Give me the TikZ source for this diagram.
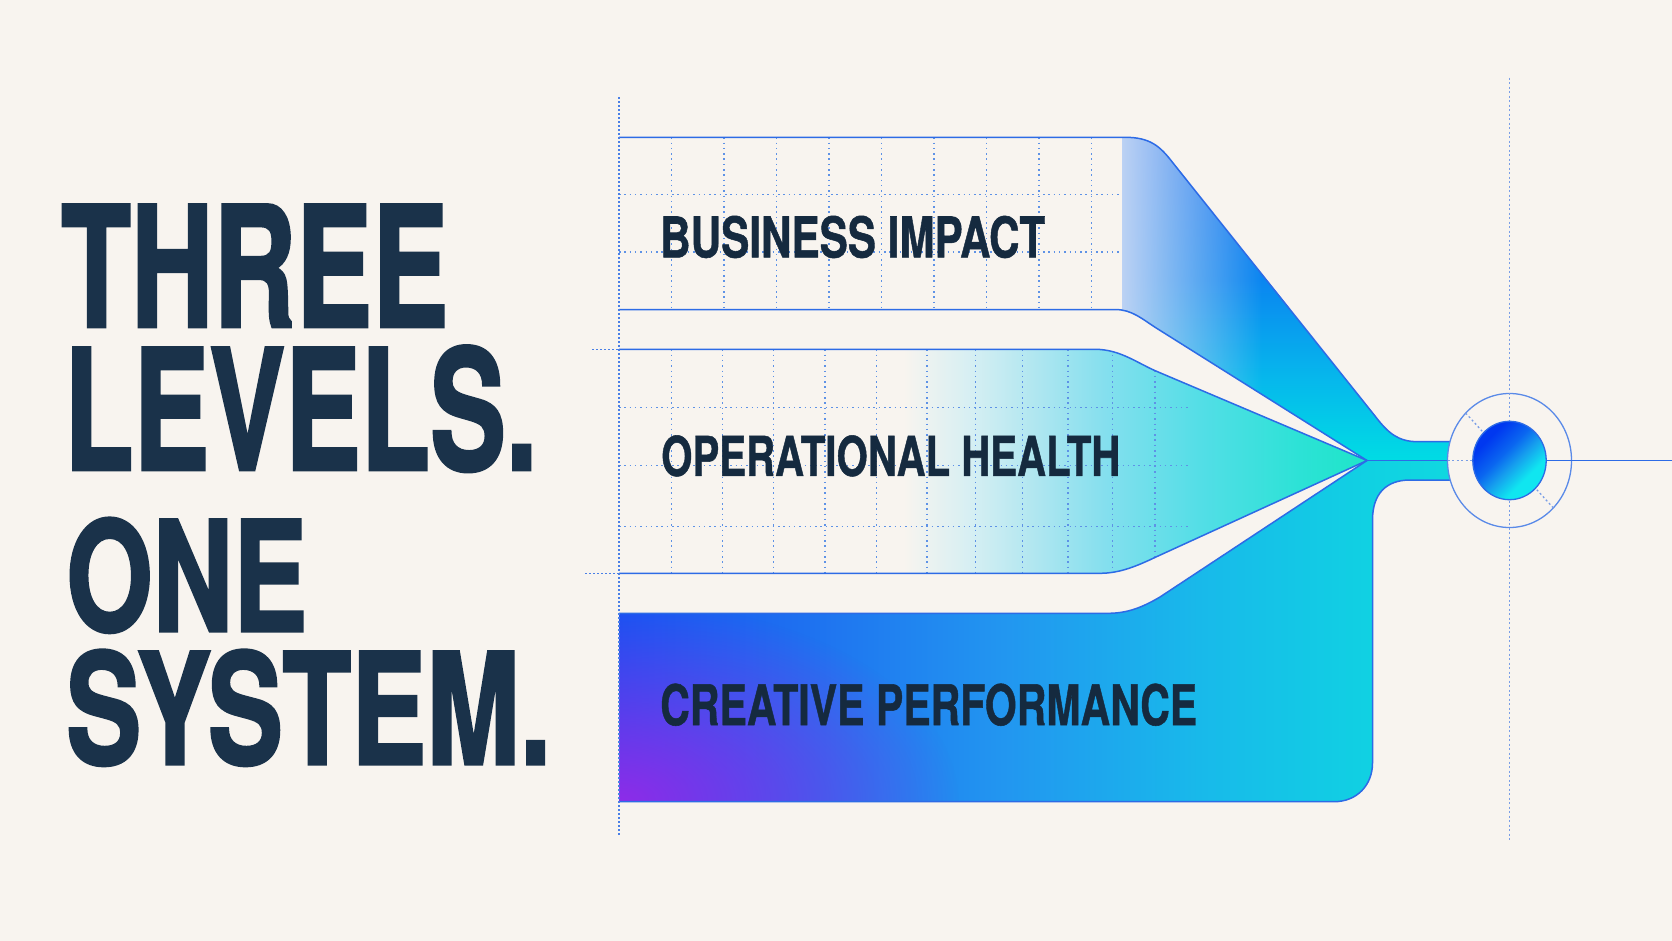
\documentclass[tikz,border=0pt]{standalone}
\usepackage{fontspec}
\usepackage{graphicx}
\newfontfamily\headfont{texgyreheros-bold.otf}[FakeBold=2]
\newfontfamily\labelfont{texgyreheros-bold.otf}[FakeBold=1]
\usetikzlibrary{fadings}
\definecolor{bg}{HTML}{F8F4EF}
\definecolor{navy}{HTML}{1A324A}
\definecolor{labelnavy}{HTML}{152A3F}
\definecolor{lineblue}{HTML}{2D6BE6}
\definecolor{gridblue}{HTML}{5E92E6}
\definecolor{guideblue}{HTML}{4A7FE6}
\definecolor{guidelight}{HTML}{7A9EE6}
\definecolor{ringblue}{HTML}{5A8AE8}
\definecolor{b1a}{HTML}{00DCE4}
\definecolor{b1b}{HTML}{06B8EC}
\definecolor{b1c}{HTML}{0A86F0}
\definecolor{b1d}{HTML}{1C74F0}
\definecolor{b1light}{HTML}{BCD2F4}
\definecolor{b2a}{HTML}{D6EFF3}
\definecolor{b2b}{HTML}{AEE6F0}
\definecolor{b2c}{HTML}{84DFEE}
\definecolor{b2d}{HTML}{52DEE6}
\definecolor{b2e}{HTML}{2CE2D6}
\definecolor{b2f}{HTML}{1EE5C8}
\definecolor{b3a}{HTML}{1654F2}
\definecolor{b3b}{HTML}{1E70F0}
\definecolor{b3c}{HTML}{2296F0}
\definecolor{b3d}{HTML}{18BAEA}
\definecolor{b3e}{HTML}{10D2E2}
\definecolor{b3f}{HTML}{10D8E0}
\definecolor{purp}{HTML}{8E2CE8}
\definecolor{k1}{HTML}{0038F0}
\definecolor{k2}{HTML}{0A66F0}
\definecolor{k3}{HTML}{16A0EE}
\definecolor{k4}{HTML}{10E6F0}
\pgfdeclareverticalshading{bandoneSh}{100bp}{color(0bp)=(b1a); color(25bp)=(b1a); color(37.5bp)=(b1b); color(52.9bp)=(b1c); color(75bp)=(b1d); color(100bp)=(b1d)}
\pgfdeclarehorizontalshading{bandtwoSh}{100bp}{color(0bp)=(bg); color(44bp)=(bg); color(48.5bp)=(b2a); color(53bp)=(b2b); color(57.5bp)=(b2c); color(64bp)=(b2d); color(70.5bp)=(b2e); color(75bp)=(b2f); color(100bp)=(b2f)}
\pgfdeclarehorizontalshading{bandthreeSh}{100bp}{color(0bp)=(b3a); color(25bp)=(b3a); color(35.9bp)=(b3b); color(48bp)=(b3c); color(60bp)=(b3d); color(70.4bp)=(b3e); color(75bp)=(b3f); color(100bp)=(b3f)}
\pgfdeclarehorizontalshading{ballSh}{100bp}{color(0bp)=(k1); color(30bp)=(k1); color(44bp)=(k2); color(54bp)=(k3); color(66bp)=(k4); color(100bp)=(k4)}
\tikzfading[name=fadeR, left color=transparent!0, right color=transparent!100]
\tikzfading[name=fadeO, inner color=transparent!0, outer color=transparent!100]
\def\bandonefill{(1122,137.3) -- (1125,137.3) .. controls (1150,137.3) and (1160,146) .. (1173,163) -- (1375,416) .. controls (1388,433) and (1398,441.7) .. (1418,441.7) -- (1455,441.7) -- (1455,460.5) -- (1367,460.5) -- (1157,328.5) .. controls (1145,321) and (1132,310) .. (1122,309.6) -- cycle}
\def\bandtwo{(619,349.3) -- (1095,349.3) .. controls (1120,349.3) and (1137,363) .. (1157,371.5) -- (1367,460.5) -- (1157,556.5) .. controls (1137,566) and (1120,573.3) .. (1100,573.3) -- (619,573.3) -- cycle}
\def\bandthree{(619,613.3) -- (1108,613.3) .. controls (1128,613.3) and (1143,607) .. (1160,597) -- (1367,460.5) -- (1455,460.5) -- (1455,480) -- (1410,480) .. controls (1386,480) and (1372.5,494) .. (1372.5,520) -- (1372.5,763) .. controls (1372.5,785) and (1357,801.7) .. (1334,801.7) -- (619,801.7) -- cycle}
\begin{document}
\begin{tikzpicture}[x=1pt,y=-1pt,
  bandline/.style={draw=lineblue, line width=1.5pt},
  gridline/.style={draw=gridblue, line width=1.3pt, dash pattern=on 1.5pt off 3.8pt},
  guideline/.style={draw=guideblue, line width=1.3pt, dash pattern=on 2pt off 2pt},
  guidelt/.style={draw=guidelight, line width=1.3pt, dash pattern=on 2pt off 2.5pt},
  ringline/.style={draw=ringblue, line width=1.3pt},
  bigtext/.style={anchor=south west, inner sep=0pt, text=navy},
  labeltext/.style={anchor=south west, inner sep=0pt, text=labelnavy}]
\useasboundingbox (0,0) rectangle (1672,941);
\fill[bg] (0,0) rectangle (1672,941);
\coordinate (apex) at (1367,460.5);
\coordinate (ringc) at (1509.5,460.5);
% band fills
\shade[shading=bandtwoSh] \bandtwo;
\shade[shading=bandoneSh] \bandonefill;
\begin{scope}
  \clip \bandonefill;
  \fill[b1light, path fading=fadeR] (1122,130) rectangle (1262,470);
\end{scope}
\shade[shading=bandthreeSh] \bandthree;
\begin{scope}
  \clip \bandthree;
  \fill[purp, path fading=fadeO] (619,801.7) ellipse [x radius=340pt, y radius=200pt];
\end{scope}
% grids
\begin{scope}
  \clip (619,137.3) rectangle (1122,309.5);
  \foreach \x in {671.5,724,776.5,829,881.5,934,986.5,1039,1091.5}
    \draw[gridline] (\x,137.3) -- (\x,309.5);
  \foreach \y in {194.7,252.1}
    \draw[gridline] (619,\y) -- (1122,\y);
\end{scope}
\begin{scope}
  \clip \bandtwo;
  \foreach \x in {671.4,722.5,773.6,825,876.4,927.1,975.4,1022.5,1067.9,1112.5,1155}
    \draw[gridline] (\x,349.3) -- (\x,573.3);
  \foreach \y in {407.7,465.7,526.7}
    \draw[gridline] (619,\y) -- (1190,\y);
\end{scope}
% outlines
\draw[bandline] (619,137.3) -- (1125,137.3) .. controls (1150,137.3) and (1160,146) .. (1173,163) -- (1375,416) .. controls (1388,433) and (1398,441.7) .. (1418,441.7) -- (1455,441.7);
\draw[bandline] (619,309.5) -- (1115,309.5) .. controls (1132,309.5) and (1142,319) .. (1157,328.5) -- (apex);
\draw[bandline] (619,349.3) -- (1095,349.3) .. controls (1120,349.3) and (1137,363) .. (1157,371.5) -- (apex) -- (1157,556.5) .. controls (1137,566) and (1120,573.3) .. (1100,573.3) -- (619,573.3);
\draw[bandline] (619,613.3) -- (1108,613.3) .. controls (1128,613.3) and (1143,607) .. (1160,597) -- (apex);
\draw[bandline] (1455,480) -- (1410,480) .. controls (1386,480) and (1372.5,494) .. (1372.5,520) -- (1372.5,763) .. controls (1372.5,785) and (1357,801.7) .. (1334,801.7) -- (619,801.7);
\draw[bandline] (apex) -- (1455,460.5);
% guides
\draw[guideline] (619,97.3) -- (619,835);
\draw[guideline] (592,349.3) -- (619,349.3);
\draw[guideline] (585,573.3) -- (619,573.3);
% ring
\fill[bg] (ringc) ellipse [x radius=62pt, y radius=67pt];
\draw[ringline] (ringc) ellipse [x radius=62pt, y radius=67pt];
\draw[guidelt] (1509.5,77.7) -- (1509.5,840);
\draw[guidelt] (1447.5,460.5) -- (1472.5,460.5);
\draw[guidelt] (1465.7,413.1) -- (1483.6,432.8);
\draw[guidelt] (1553.3,507.9) -- (1535.4,488.2);
\draw[bandline] (1546,460.5) -- (1672,460.5);
\shade[shading=ballSh, shading angle=-45] (ringc) ellipse [x radius=36.7pt, y radius=39.2pt];
\draw[draw=lineblue, line width=1.3pt] (ringc) ellipse [x radius=36.7pt, y radius=39.2pt];
% texts
\node[bigtext] (three) at (61,327) {\resizebox{387pt}{122pt}{\headfont THREE}};
\node[bigtext] (levels) at (64,472) {\resizebox{473pt}{124pt}{\headfont LEVELS.}};
\node[bigtext] (one) at (66,633) {\resizebox{241pt}{113pt}{\headfont ONE}};
\node[bigtext] (system) at (66,766) {\resizebox{485pt}{114pt}{\headfont SYSTEM.}};
\node[labeltext] (biz) at (660,258.3) {\resizebox{385pt}{41.6pt}{\labelfont BUSINESS IMPACT}};
\node[labeltext] (ops) at (661,476.7) {\resizebox{459pt}{40.5pt}{\labelfont OPERATIONAL HEALTH}};
\node[labeltext] (cre) at (660,726) {\resizebox{537pt}{41.5pt}{\labelfont CREATIVE PERFORMANCE}};
\end{tikzpicture}
\end{document}
